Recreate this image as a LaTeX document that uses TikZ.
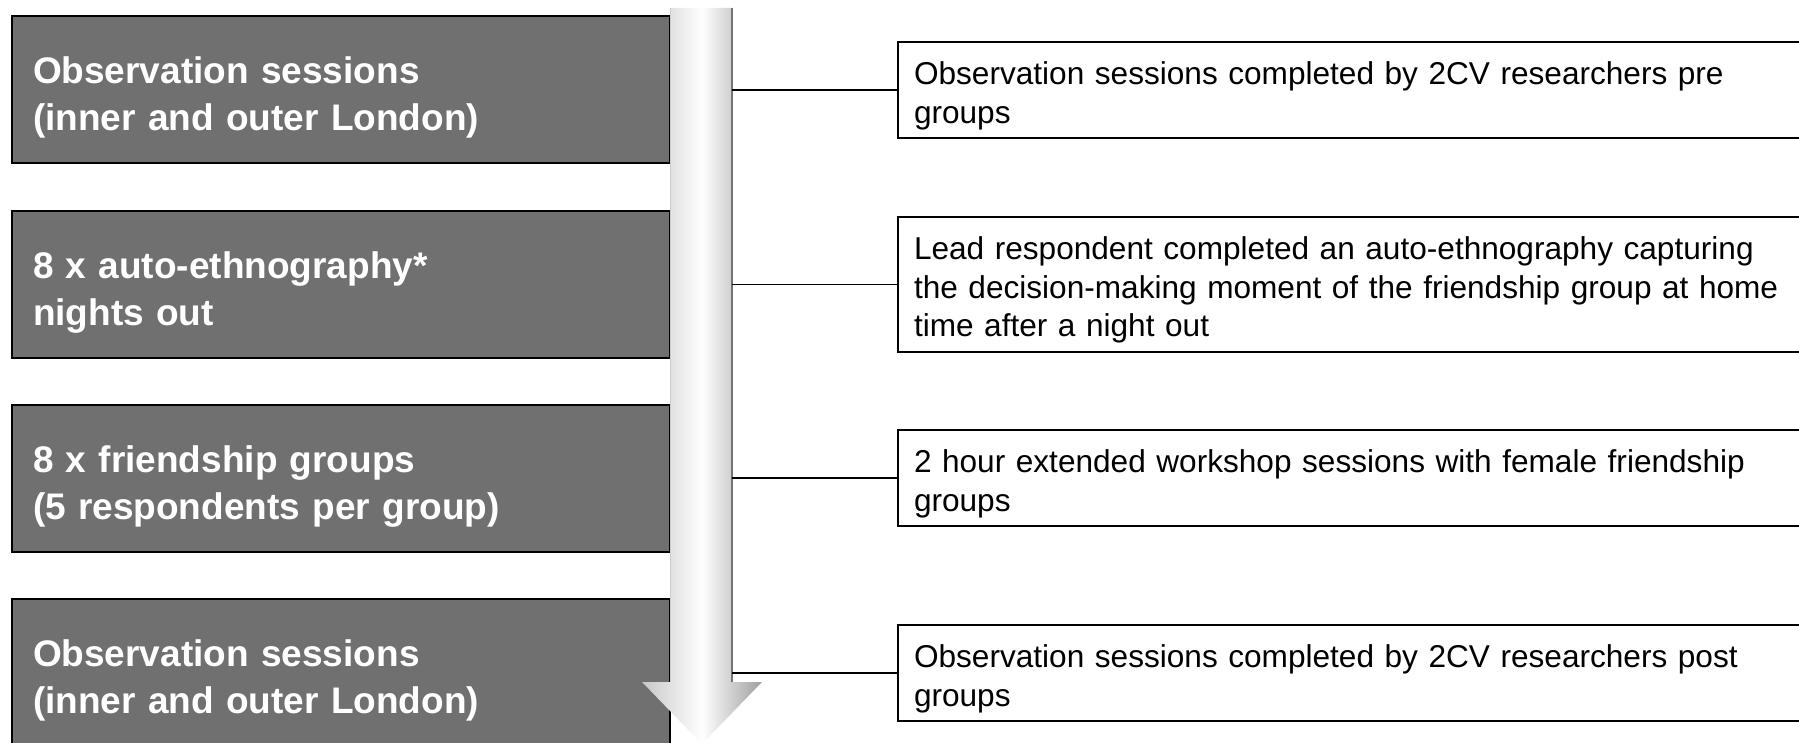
\documentclass[tikz,border=0pt]{standalone}
\usepackage{fontspec}
\setmainfont{Liberation Sans}
\definecolor{phasegrey}{RGB}{112,112,112}
\tikzset{
  phasebox/.style={draw=black, line width=1pt, fill=phasegrey, text=white,
    font=\bfseries\fontsize{18.5}{23.5}\selectfont, text width=308pt,
    inner xsep=10.5pt, minimum height=73.5pt, align=left,
    execute at begin node=\rule{0pt}{21pt}},
  notebox/.style={draw=black, line width=1pt, fill=white,
    font=\fontsize{15.8}{19.3}\selectfont, text width=440pt,
    inner xsep=8pt, align=left, anchor=west,
    execute at begin node=\rule{0pt}{17pt}},
}
\begin{document}
\begin{tikzpicture}[x=0.5pt, y=-0.5pt]
                \useasboundingbox (0, 0) rectangle (1799, 743);
                % faze na levi
                \node (phase1) at (341, 89.5) [phasebox] {Observation sessions\\(inner and outer London)};
                \node (phase2) at (341, 284.5) [phasebox] {8 x auto-ethnography*\\nights out};
                \node (phase3) at (341, 478.5) [phasebox] {8 x friendship groups\\(5 respondents per group)};
                \node (phase4) at (341, 672.5) [phasebox] {Observation sessions\\(inner and outer London)};

                % puscica
                \shade[left color=black!22, right color=black!38, middle color=white]
                    (670, 8) -- (732, 8) -- (732, 682) -- (762, 682) -- (702, 744)
                    -- (642, 682) -- (670, 682) -- cycle;
                \draw[black!20, line width=0.5pt] (670, 8) -- (670, 682);
                \draw[black!55, line width=1pt] (732, 8) -- (732, 682);
                \coordinate (shaftR) at (732, 0);

                % opombe na desni
                \node (note1) at (897, 90) [notebox, minimum height=48pt] {Observation sessions completed by 2CV researchers pre\\groups};
                \node (note2) at (897, 284.5) [notebox, minimum height=67.5pt] {Lead respondent completed an auto-ethnography capturing\\the decision-making moment of the friendship group at home\\time after a night out};
                \node (note3) at (897, 478) [notebox, minimum height=48pt] {2 hour extended workshop sessions with female friendship\\groups};
                \node (note4) at (897, 673) [notebox, minimum height=48pt] {Observation sessions completed by 2CV researchers post\\groups};

                % povezave
                \draw[line width=0.75pt] (note1.west) -- (note1.west -| shaftR);
                \draw[line width=0.75pt] (note2.west) -- (note2.west -| shaftR);
                \draw[line width=0.75pt] (note3.west) -- (note3.west -| shaftR);
                \draw[line width=0.75pt] (note4.west) -- (note4.west -| shaftR);
            \end{tikzpicture}
\end{document}
